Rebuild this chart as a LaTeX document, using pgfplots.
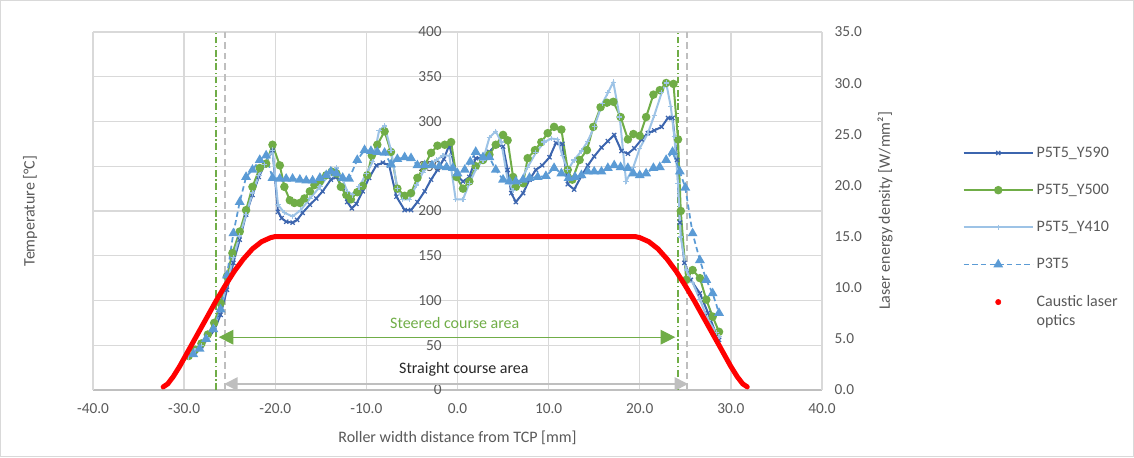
\documentclass[border=0pt]{standalone}
\usepackage{pgfplots}
\pgfplotsset{compat=1.18}
\usepackage{fontspec}
\setmainfont{Carlito}
\usetikzlibrary{arrows.meta}
\definecolor{cdark}{HTML}{3C65AE}
\definecolor{cgreen}{HTML}{70AD47}
\definecolor{clight}{HTML}{9DC3E6}
\definecolor{cmid}{HTML}{5B9BD5}
\definecolor{cgrid}{HTML}{D9D9D9}
\definecolor{ctext}{HTML}{595959}
\definecolor{carrow}{HTML}{BFBFBF}
\begin{document}
\begin{tikzpicture}
\useasboundingbox (0,0) rectangle (850.5pt,342.75pt);
\draw[cgrid, line width=0.75pt] (0.4pt,0.4pt) rectangle (850.1pt,342.35pt);
\begin{axis}[
  at={(69.75pt,50.25pt)}, anchor=south west,
  scale only axis, width=546.75pt, height=268.5pt,
  xmin=-40, xmax=40, ymin=0, ymax=400,
  xtick={-40,-30,...,40}, ytick={0,50,...,400},
  grid=major, major grid style={cgrid, line width=1pt},
  axis x line*=bottom, axis y line*=left,
  x axis line style={carrow, line width=1pt},
  y axis line style={cgrid, line width=1pt},
  major tick length=0pt, tick style={draw=none},
  /pgf/number format/assume math mode=true,
  ticklabel style={font=\fontsize{11.5}{13}\selectfont, text=ctext},
  xticklabel style={/pgf/number format/fixed, /pgf/number format/fixed zerofill, /pgf/number format/precision=1, yshift=-7pt},
  yticklabel style={xshift=265pt},
  xlabel={Roller width distance from TCP [mm]},
  ylabel={Temperature [°C]},
  every axis x label/.style={at={(axis description cs:0.5,-0.134)}, anchor=center, font=\fontsize{12}{14.4}\selectfont, text=ctext},
  every axis y label/.style={at={(axis description cs:-0.0864,0.5)}, anchor=center, rotate=90, font=\fontsize{12}{14.4}\selectfont, text=ctext},
  legend cell align=left,
  legend style={at={(axis description cs:1.187,0.695)}, anchor=north west, draw=none, fill=none, font=\fontsize{12}{14.4}\selectfont, text=ctext, row sep=14.6pt},
  legend image code/.code={\draw[mark repeat=2,mark phase=2,#1] plot coordinates {(0pt,0pt) (26pt,0pt) (52pt,0pt)};},
  clip=false,
]
\draw[cgreen, line width=1.1pt, dash pattern=on 5pt off 2pt on 1pt off 2pt] (axis cs:-26.5,0) -- (axis cs:-26.5,400);
\draw[cgreen, line width=1.1pt, dash pattern=on 5pt off 2pt on 1pt off 2pt] (axis cs:24.2,0) -- (axis cs:24.2,400);
\draw[carrow, line width=1.1pt, dash pattern=on 5pt off 3pt] (axis cs:-25.5,0) -- (axis cs:-25.5,400);
\draw[carrow, line width=1.1pt, dash pattern=on 5pt off 3pt] (axis cs:25.2,0) -- (axis cs:25.2,400);

\addplot[cdark, line width=1.5pt, mark=x, mark size=2.2pt, mark options={solid, line width=0.9pt}] coordinates {
(-29.5,37) (-28.8,43) (-28.1,49) (-27.4,57) (-26.7,67) (-26.0,84) (-25.3,112) (-24.6,142) (-23.9,168) (-23.2,196) (-22.5,218) (-21.8,238) (-21.2,251) (-20.3,268) (-19.7,199) (-19.3,192) (-18.8,188) (-18.1,187) (-17.6,190) (-17.0,198) (-16.2,207) (-15.5,214) (-14.8,222) (-13.9,235) (-13.3,238) (-12.6,226) (-12.1,210) (-11.6,203) (-11.1,208) (-10.4,222) (-9.7,237) (-8.9,251) (-8.2,254) (-7.5,251) (-6.7,216) (-5.8,201) (-5.1,201) (-4.4,210) (-3.6,222) (-2.9,235) (-2.2,246) (-1.5,258) (-0.9,274) (-0.1,240) (0.6,233) (1.3,238) (2.0,259) (2.8,260) (3.5,266) (4.2,274) (5.0,272) (5.5,246) (5.9,220) (6.4,210) (7.2,220) (7.9,235) (8.6,246) (9.3,251) (10.1,260) (10.8,276) (11.5,275) (12.1,230) (12.8,224) (13.6,239) (14.3,251) (15.0,261) (15.8,271) (16.5,278) (17.2,285) (18.0,267) (18.7,264) (19.4,270) (20.2,280) (20.9,287) (21.6,290) (22.4,294) (23.1,304) (23.6,304) (24.1,257) (24.4,187) (24.9,142) (25.6,123) (26.6,108) (27.5,86) (28.4,62) (28.7,56)
};
\addlegendentry{P5T5\_Y590}
\addplot[cgreen, line width=1.5pt, mark=*, mark size=2.4pt, mark options={solid}] coordinates {
(-29.5,38) (-28.8,45) (-28.1,52) (-27.4,62) (-26.7,75) (-26.0,97) (-25.3,127) (-24.7,153) (-23.9,177) (-23.2,201) (-22.5,227) (-21.7,248) (-21.0,253) (-20.3,274) (-19.5,251) (-19.0,227) (-18.4,212) (-17.9,209) (-17.3,209) (-16.8,214) (-16.2,222) (-15.7,229) (-15.1,233) (-14.4,240) (-13.8,244) (-13.3,242) (-12.8,227) (-12.2,218) (-11.7,213) (-11.0,221) (-10.4,228) (-9.9,240) (-9.4,262) (-8.8,274) (-8.0,289) (-7.3,266) (-6.6,225) (-5.8,217) (-5.1,220) (-4.4,237) (-3.6,251) (-2.9,265) (-2.2,273) (-1.4,274) (-0.7,277) (-0.1,238) (0.6,225) (1.3,233) (2.0,250) (2.8,257) (3.5,263) (4.2,274) (5.0,285) (5.5,279) (6.1,238) (6.4,227) (7.2,231) (7.7,259) (8.5,268) (9.2,277) (9.9,287) (10.6,294) (11.4,291) (12.1,246) (12.6,235) (13.4,257) (14.2,268) (14.9,294) (15.7,316) (16.4,321) (17.1,322) (17.9,305) (18.7,280) (19.3,286) (20.0,284) (20.7,305) (21.5,330) (22.2,335) (22.9,343) (23.7,342) (24.2,280) (24.5,200) (25.1,123) (25.8,134) (26.6,125) (27.3,101) (28.0,82) (28.7,65)
};
\addlegendentry{P5T5\_Y500}
\addplot[clight, line width=1.5pt, mark=+, mark size=2pt, mark options={solid, line width=0.9pt}] coordinates {
(-29.5,37) (-28.8,44) (-28.1,50) (-27.4,58) (-26.7,70) (-26.0,90) (-25.3,118) (-24.6,148) (-23.9,172) (-23.2,196) (-22.5,220) (-21.8,240) (-21.2,252) (-20.3,268) (-19.7,207) (-19.0,198) (-18.1,194) (-17.2,201) (-16.2,214) (-15.1,227) (-14.0,242) (-13.3,248) (-12.6,235) (-12.1,222) (-11.5,218) (-10.8,227) (-10.0,242) (-9.3,255) (-8.6,290) (-8.0,295) (-7.3,268) (-6.6,225) (-6.0,213) (-5.3,213) (-4.5,229) (-3.8,243) (-3.1,252) (-2.3,257) (-1.6,262) (-0.9,262) (-0.2,213) (0.6,213) (1.3,231) (2.0,246) (2.8,257) (3.5,282) (4.2,289) (4.8,277) (5.5,235) (6.1,223) (6.8,231) (7.7,249) (8.6,265) (9.5,277) (10.3,281) (11.0,280) (11.5,262) (12.1,246) (12.8,257) (13.6,267) (14.3,278) (15.0,294) (15.9,320) (16.5,332) (17.1,344) (17.8,305) (18.5,233) (19.3,249) (20.0,270) (20.9,287) (21.6,307) (22.4,332) (22.9,343) (23.4,317) (23.8,283) (24.2,231) (24.5,171) (25.1,134) (25.8,120) (26.6,101) (27.5,78) (28.4,64) (28.7,60)
};
\addlegendentry{P5T5\_Y410}
\addplot[cmid, line width=1.3pt, dash pattern=on 4pt off 2.5pt, mark=triangle*, mark size=3pt, mark options={solid}] coordinates {
(-29.0,40) (-28.3,46) (-27.6,57) (-26.8,68) (-26.0,90) (-25.3,128) (-24.6,175) (-23.9,210) (-23.2,238) (-22.5,246) (-21.7,257) (-21.0,262) (-20.3,237) (-19.5,236) (-18.8,236) (-18.1,236) (-17.3,235) (-16.6,234) (-15.9,234) (-15.1,237) (-14.4,240) (-13.9,244) (-13.3,242) (-12.6,237) (-11.9,236) (-11.0,257) (-10.2,268) (-9.5,267) (-8.8,266) (-8.0,265) (-7.3,252) (-6.6,258) (-5.8,260) (-5.1,259) (-4.4,251) (-3.6,251) (-2.8,251) (-2.0,250) (-1.2,249) (-0.5,248) (0.0,242) (0.8,246) (1.4,255) (2.0,266) (2.8,260) (3.5,260) (4.2,246) (5.0,235) (5.7,233) (6.4,233) (7.2,235) (7.9,237) (8.8,238) (9.7,239) (10.6,248) (11.4,242) (12.2,237) (12.9,238) (13.6,240) (14.3,244) (15.0,244) (15.8,244) (16.5,248) (17.2,251) (17.9,249) (18.7,248) (19.3,242) (20.0,240) (20.7,242) (21.5,248) (22.2,249) (22.9,257) (23.6,266) (24.4,244) (25.0,226) (25.8,175) (26.6,145) (27.3,123) (28.0,108) (28.7,86)
};
\addlegendentry{P3T5}
\addlegendimage{only marks, mark=*, red, mark size=2pt}
\addlegendentry{\makebox[0pt][l]{\smash{\raisebox{-14.4pt}{optics}}}Caustic laser}

\draw[cgreen, line width=0.9pt, {Triangle[length=11pt,width=11pt]}-{Triangle[length=11pt,width=11pt]}] (axis cs:-26.2,59) -- (axis cs:23.9,59);
\node[text=cgreen, font=\fontsize{12}{14.4}\selectfont] at (axis cs:-0.3,75) {Steered course area};
\draw[carrow, line width=1.1pt, {Triangle[length=10pt,width=10pt]}-{Triangle[length=10pt,width=10pt]}] (axis cs:-25.6,6.7) -- (axis cs:25.3,6.7);
\node[text=black!85, font=\fontsize{12}{14.4}\selectfont] at (axis cs:0.7,23) {Straight course area};
\end{axis}
\begin{axis}[
  at={(69.75pt,50.25pt)}, anchor=south west,
  scale only axis, width=546.75pt, height=268.5pt,
  xmin=-40, xmax=40, ymin=0, ymax=35,
  axis x line=none, axis y line*=right,
  y axis line style={cgrid, line width=1pt},
  ytick={0,5,...,35},
  major tick length=0pt, tick style={draw=none},
  /pgf/number format/assume math mode=true,
  ticklabel style={font=\fontsize{11.5}{13}\selectfont, text=ctext},
  yticklabel style={/pgf/number format/fixed, /pgf/number format/fixed zerofill, /pgf/number format/precision=1, xshift=6pt},
  ylabel={Laser energy density [W/mm²]},
  every axis y label/.style={at={(axis description cs:1.0864,0.5)}, anchor=center, rotate=90, font=\fontsize{12}{14.4}\selectfont, text=ctext},
  clip=false,
]
\addplot[red, line width=3.75pt, line cap=round, line join=round] coordinates {
(-32.3,0.3) (-31.8,0.6) (-31.2,1.3) (-30.5,2.3) (-29.5,3.9) (-28.5,5.5) (-27.5,7.1) (-26.5,8.7) (-25.5,10.2) (-24.5,11.6) (-23.5,12.8) (-22.5,13.8) (-21.5,14.5) (-20.5,14.9) (-20.0,15.0) (19.5,15.0) (20.0,14.9) (21.0,14.5) (22.0,13.8) (23.0,12.8) (24.0,11.6) (25.0,10.2) (26.0,8.7) (27.0,7.1) (28.0,5.5) (29.0,3.9) (30.0,2.3) (30.7,1.3) (31.3,0.6) (31.8,0.3)
};
\end{axis}
\end{tikzpicture}
\end{document}
